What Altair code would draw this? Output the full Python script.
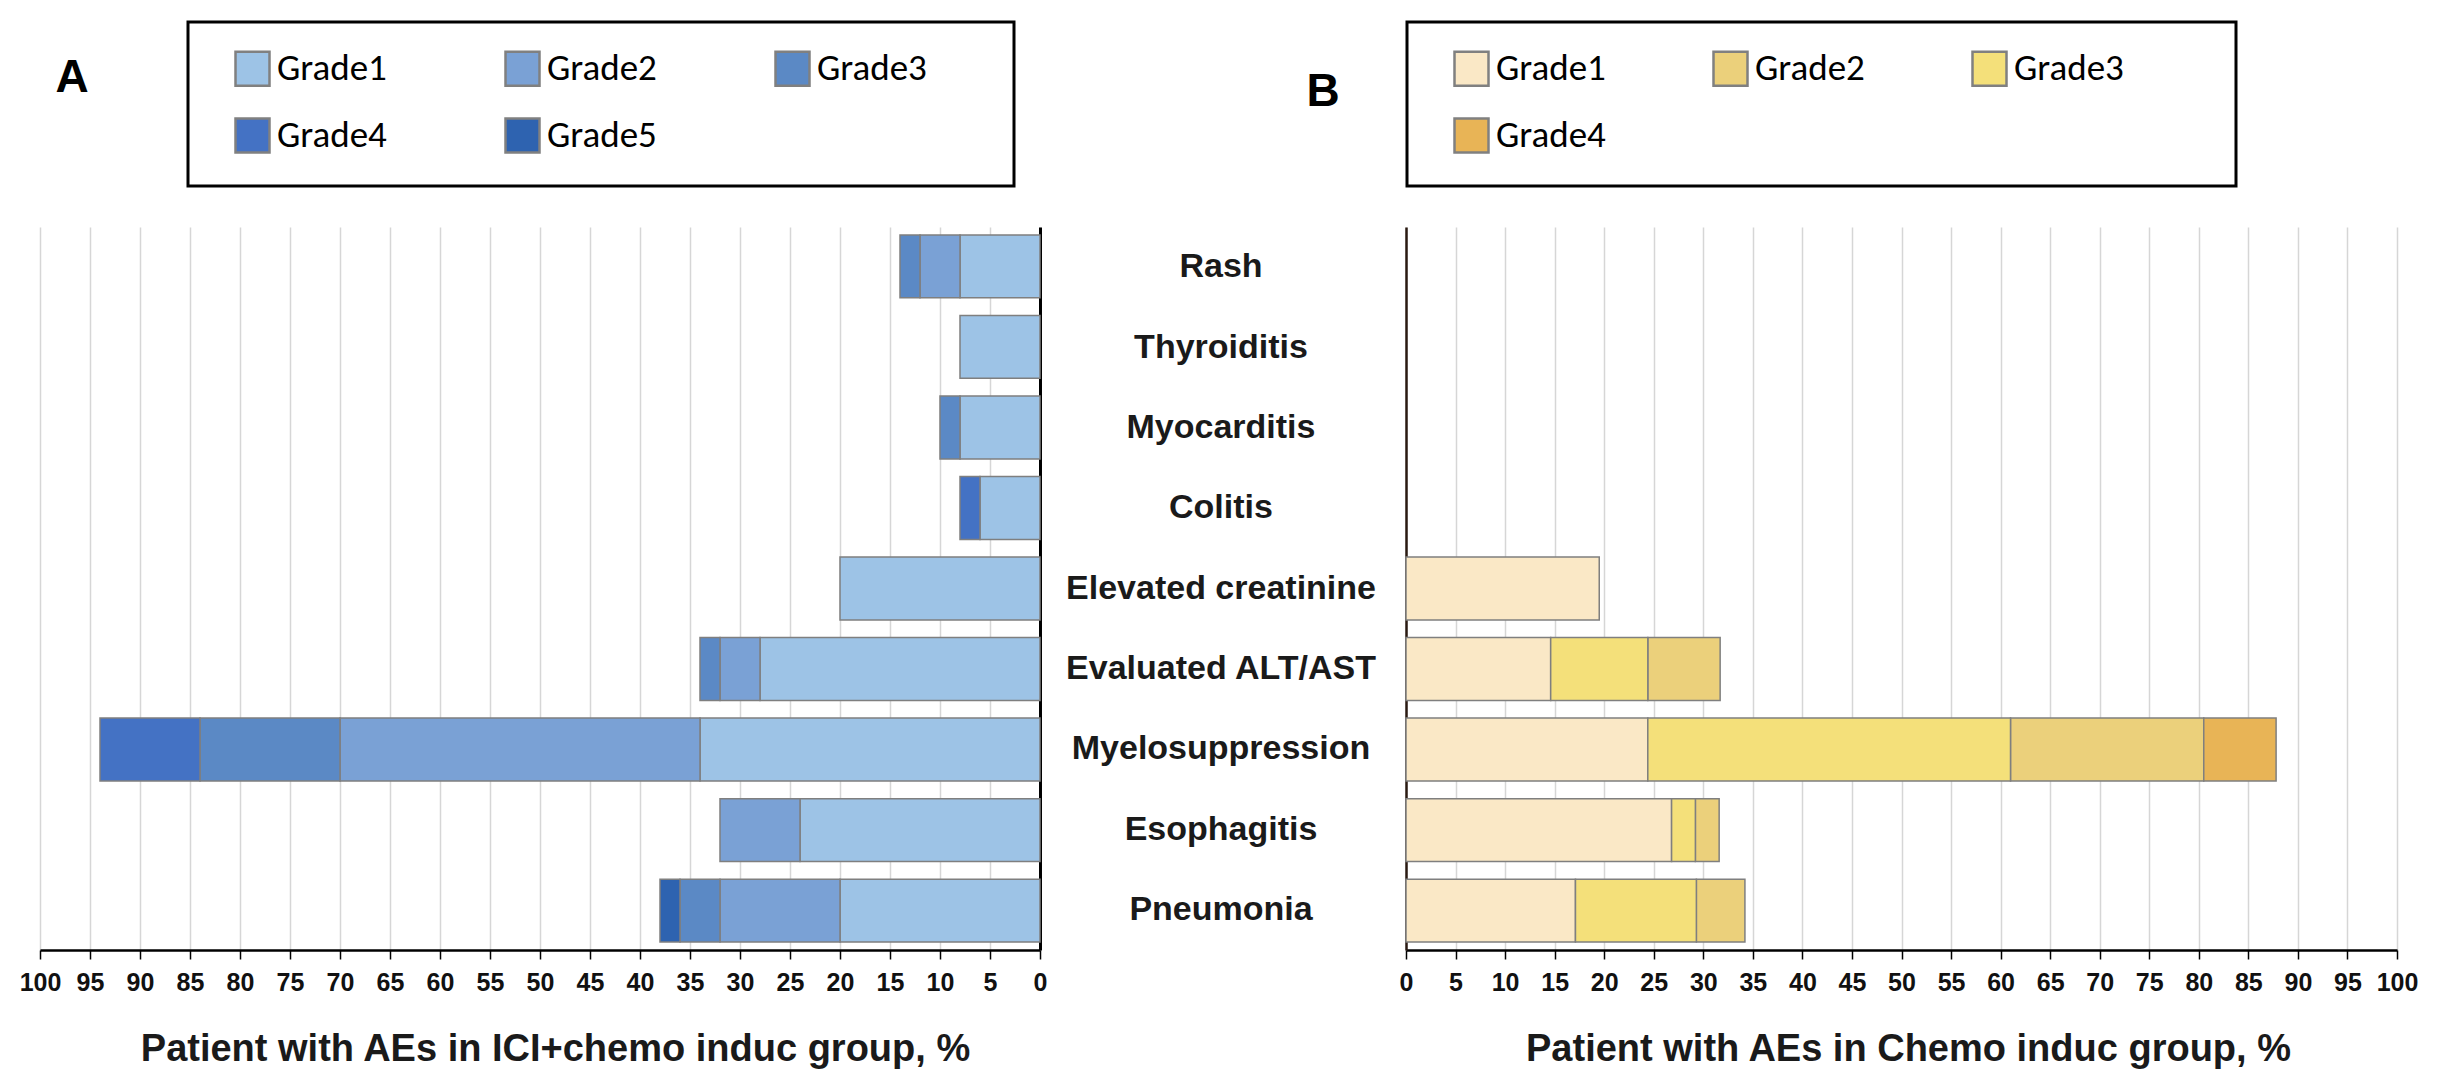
import altair as alt
import pandas as pd

# ---------------- data ----------------
categories = [
    "Rash", "Thyroiditis", "Myocarditis", "Colitis", "Elevated creatinine",
    "Evaluated ALT/AST", "Myelosuppression", "Esophagitis", "Pneumonia",
]

ici_grades = ["Grade1", "Grade2", "Grade3", "Grade4", "Grade5"]
ici_grade1 = [8, 8, 8, 6, 20, 28, 34, 24, 20]
ici_grade2 = [4, 0, 0, 0, 0, 4, 36, 8, 12]
ici_grade3 = [2, 0, 2, 0, 0, 2, 14, 0, 4]
ici_grade4 = [0, 0, 0, 2, 0, 0, 10, 0, 0]
ici_grade5 = [0, 0, 0, 0, 0, 0, 0, 0, 2]
ici_colors = ["#9dc3e6", "#7aa1d5", "#5b89c5", "#4472c4", "#2e63b0"]

chemo_grades = ["Grade1", "Grade2", "Grade3", "Grade4"]
chemo_grade1 = [0, 0, 0, 0, 19.5, 14.6, 24.4, 26.8, 17.1]
chemo_grade2 = [0, 0, 0, 0, 0, 7.3, 19.5, 2.4, 4.9]
chemo_grade3 = [0, 0, 0, 0, 0, 9.8, 36.6, 2.4, 12.2]
chemo_grade4 = [0, 0, 0, 0, 0, 0, 7.3, 0, 0]
chemo_stack = ["Grade1", "Grade3", "Grade2", "Grade4"]  # order of segments from 0
chemo_colors = ["#fae8c6", "#ebd07b", "#f4e07a", "#e8b456"]

tick_values = list(range(0, 101, 5))

# ---------------- tables ----------------
rows = []
for g, vals in zip(ici_grades, [ici_grade1, ici_grade2, ici_grade3, ici_grade4, ici_grade5]):
    for c, v in zip(categories, vals):
        if v > 0:
            rows.append({"category": c, "grade": g, "value": v, "ord": ici_grades.index(g)})
ici_df = pd.DataFrame(rows)

rows = []
for g, vals in zip(chemo_grades, [chemo_grade1, chemo_grade2, chemo_grade3, chemo_grade4]):
    for c, v in zip(categories, vals):
        if v > 0:
            rows.append({"category": c, "grade": g, "value": v, "ord": chemo_stack.index(g)})
chemo_df = pd.DataFrame(rows)

# ---------------- styling ----------------
SANS = "Liberation Sans, Arial, sans-serif"
LEG_FONT = "Carlito, Lato, sans-serif"
PLOT_H = 723
LEFT_W = 1000
MID_W = 366
RIGHT_W = 991

band = alt.Scale(domain=categories, paddingInner=0.22, paddingOuter=0.1)


def x_axis(title, title_x):
    return alt.Axis(
        values=tick_values, title=title, grid=True, gridColor="#d6d6d6", gridWidth=1.5,
        domainColor="black", domainWidth=2.5, tickColor="black", tickSize=9, tickWidth=1.5,
        labelFont=SANS, labelFontSize=25, labelFontWeight="bold", labelColor="#111111",
        labelPadding=11, labelFlush=False, labelOverlap=False,
        titleFont=SANS, titleFontSize=38, titleFontWeight="bold", titleColor="#1a1a1a",
        titlePadding=35, titleX=title_x,
    )


def legend(values, lx, ly, colpad, n_blank):
    # blank room after the last column, inside the frame (zero-width space keeps it from being trimmed)
    tail = "\u00a0" * n_blank + "\u200b"
    return alt.Legend(
        values=values, title=" ", titleOrient="left", titleFontSize=4, titlePadding=18,
        orient="none", legendX=lx, legendY=ly, columns=3, direction="horizontal",
        symbolType="square", symbolSize=1156, symbolStrokeColor="#808080",
        symbolStrokeWidth=2.5, symbolOpacity=1,
        labelFont=LEG_FONT, labelFontSize=37, labelColor="black", labelOffset=6,
        labelExpr="datum.value == 'Grade3' ? datum.label + '" + tail + "' : datum.label",
        labelLimit=600,
        columnPadding=colpad, rowPadding=22, padding=28,
        strokeColor="black", fillColor="white",
    )


# ---------------- left panel ----------------
left_bars = alt.Chart(ici_df).mark_bar(stroke="#7f7f7f", strokeWidth=1.5).encode(
    x=alt.X("value:Q", stack="zero",
            scale=alt.Scale(domain=[0, 100], reverse=True, nice=False),
            axis=x_axis("Patient with AEs in ICI+chemo induc group, %", 515)),
    y=alt.Y("category:N", scale=band,
            axis=alt.Axis(orient="right", labels=False, ticks=False, grid=False,
                          domainColor="black", domainWidth=3, title=None)),
    color=alt.Color("grade:N", scale=alt.Scale(domain=ici_grades, range=ici_colors),
                    legend=legend(ici_grades, 148, -205, 113, 7)),
    order=alt.Order("ord:Q", sort="ascending"),
)
panel_a = alt.Chart(pd.DataFrame({"t": ["A"]})).mark_text(
    font=SANS, fontSize=46, fontWeight="bold", color="black", align="center", baseline="middle"
).encode(text="t:N", x=alt.value(32), y=alt.value(-149))
left = alt.layer(left_bars, panel_a).properties(width=LEFT_W, height=PLOT_H)

# ---------------- middle labels ----------------
middle = alt.Chart(pd.DataFrame({"category": categories})).mark_text(
    font=SANS, fontSize=34, fontWeight="bold", color="#1a1a1a", align="center", baseline="middle"
).encode(
    y=alt.Y("category:N", scale=band, axis=None),
    x=alt.value(181),
    text="category:N",
).properties(width=MID_W, height=PLOT_H)

# ---------------- right panel ----------------
right_bars = alt.Chart(chemo_df).mark_bar(stroke="#7f7f7f", strokeWidth=1.5).encode(
    x=alt.X("value:Q", stack="zero",
            scale=alt.Scale(domain=[0, 100], nice=False),
            axis=x_axis("Patient with AEs in Chemo induc group, %", 502)),
    y=alt.Y("category:N", scale=band,
            axis=alt.Axis(orient="left", labels=False, ticks=False, grid=False,
                          domainColor="#2a1a12", domainWidth=2.5, title=None)),
    color=alt.Color("grade:N", scale=alt.Scale(domain=chemo_grades, range=chemo_colors),
                    legend=legend(chemo_grades, 1, -205, 102, 10)),
    order=alt.Order("ord:Q", sort="ascending"),
)
panel_b = alt.Chart(pd.DataFrame({"t": ["B"]})).mark_text(
    font=SANS, fontSize=46, fontWeight="bold", color="black", align="center", baseline="middle"
).encode(text="t:N", x=alt.value(-83), y=alt.value(-135))
right = alt.layer(right_bars, panel_b).properties(width=RIGHT_W, height=PLOT_H)

chart = (
    alt.hconcat(left, middle, right, spacing=0, bounds="flush")
    .resolve_scale(color="independent", x="independent", y="independent")
    .resolve_legend(color="independent")
    .properties(padding={"left": 11, "top": 12, "right": 5, "bottom": 5}, background="white")
    .configure_view(stroke=None)
    .configure_legend(strokeWidth=3)
)

chart.save("out.html", embed_options={"renderer": "svg", "actions": False})
